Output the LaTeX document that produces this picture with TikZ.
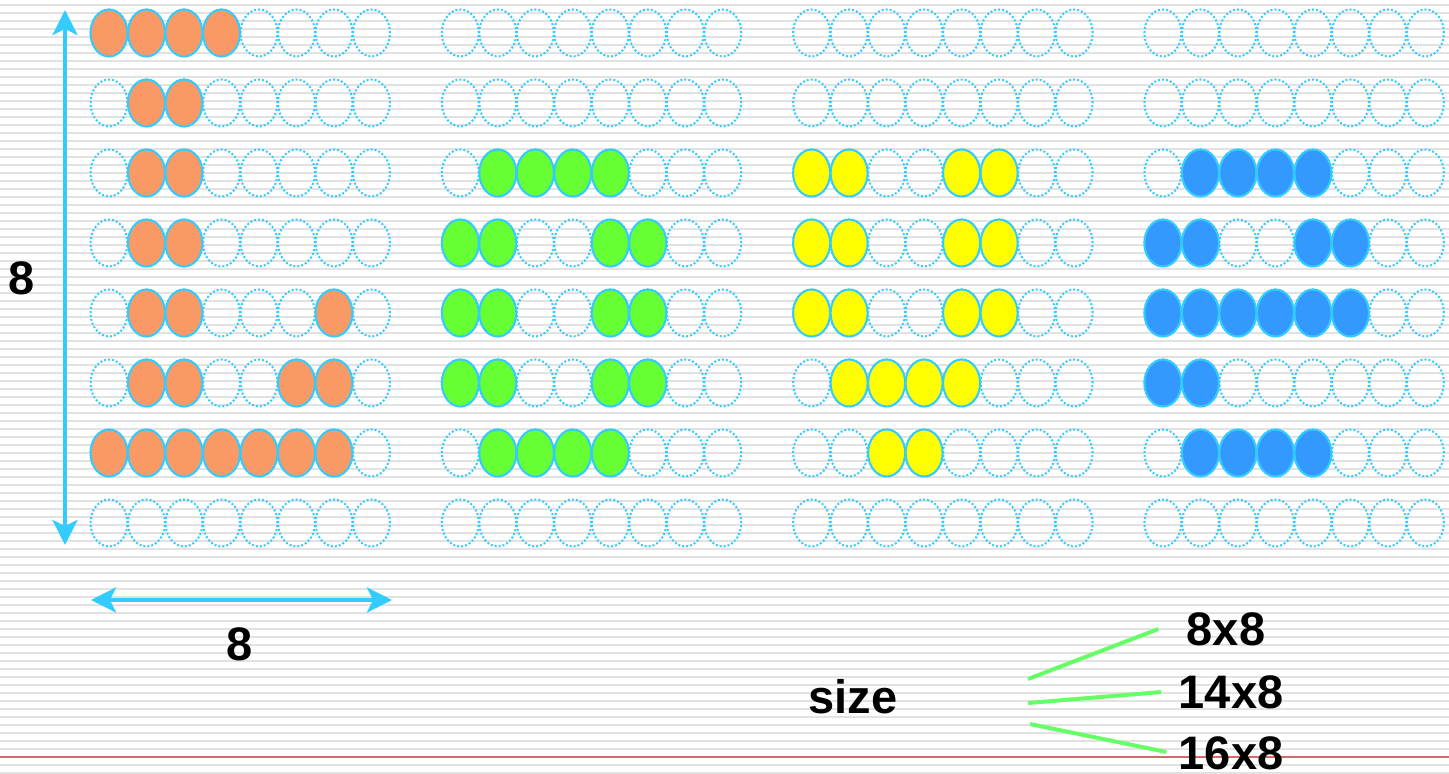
\documentclass[tikz,border=0pt]{standalone}
\usepackage{fontspec}
\setmainfont{Liberation Sans}
\usetikzlibrary{arrows.meta,shapes.geometric}
\definecolor{rimblue}{HTML}{33CCFF}
\definecolor{pixorange}{HTML}{F99A66}
\definecolor{pixgreen}{HTML}{66FF33}
\definecolor{pixyellow}{HTML}{FFFF00}
\definecolor{pixblue}{HTML}{3399FF}
\definecolor{stripegray}{HTML}{E2E2E2}
\definecolor{redrule}{HTML}{D66A6A}
\definecolor{forkgreen}{HTML}{66FF66}

\begin{document}
\begin{tikzpicture}[x=0.5pt,y=-0.5pt,>={Stealth[length=12.5pt,width=12.5pt,inset=3pt]},
  holecell/.style={ellipse,minimum width=18.5pt,minimum height=23.5pt,inner sep=0pt,line width=1pt,draw=rimblue,densely dotted},
  pixcell/.style={holecell,solid,fill=#1},
  lbl/.style={font=\bfseries\fontsize{23.5}{28}\selectfont,inner sep=0pt}]
\useasboundingbox (0,0) rectangle (1449,774);
\fill[white] (0,0) rectangle (1449,774);
\foreach \k in {0,...,96} \draw[stripegray,line width=1pt] (0,5+8*\k) -- (1449,5+8*\k);
\draw[redrule,line width=1pt] (0,757) -- (1449,757);
% empty 8x8 grids
\foreach \g in {1,...,4} \foreach \r in {1,...,8} \foreach \c in {1,...,8}
  \node[holecell] (g\g-\r-\c) at ({109+351.3*(\g-1)+37.5*(\c-1)},{33+70*(\r-1)}) {};
% filled cells
\foreach \r/\c in {1/1,1/2,1/3,1/4,2/2,2/3,3/2,3/3,4/2,4/3,5/2,5/3,5/7,6/2,6/3,6/6,6/7,7/1,7/2,7/3,7/4,7/5,7/6,7/7}
  \node[pixcell=pixorange] at (g1-\r-\c) {};
\foreach \r/\c in {3/2,3/3,3/4,3/5,4/1,4/2,4/5,4/6,5/1,5/2,5/5,5/6,6/1,6/2,6/5,6/6,7/2,7/3,7/4,7/5}
  \node[pixcell=pixgreen] at (g2-\r-\c) {};
\foreach \r/\c in {3/1,3/2,3/5,3/6,4/1,4/2,4/5,4/6,5/1,5/2,5/5,5/6,6/2,6/3,6/4,6/5,7/3,7/4}
  \node[pixcell=pixyellow] at (g3-\r-\c) {};
\foreach \r/\c in {3/2,3/3,3/4,3/5,4/1,4/2,4/5,4/6,5/1,5/2,5/3,5/4,5/5,5/6,6/1,6/2,7/2,7/3,7/4,7/5}
  \node[pixcell=pixblue] at (g4-\r-\c) {};
% dimension arrows
\coordinate (vtop) at (65,10); \coordinate (vbot) at (65,545);
\draw[<->,rimblue,line width=2pt] (vtop) -- (vbot);
\coordinate (hleft) at (91,600); \coordinate (hright) at (392,600);
\draw[<->,rimblue,line width=2pt] (hleft) -- (hright);
\node[lbl] (nrows) at (22,278) {8}; \node[lbl] (ncols) at (240,644) {8};
% size fork
\node[lbl] (size) at (853,697) {size};
\node[lbl] (s8) at (1226,629) {8x8};
\node[lbl] (s14) at (1231,692) {14x8};
\node[lbl] (s16) at (1231,753) {16x8};
\coordinate (f8) at (1028,679); \coordinate (e8) at ([xshift=-14pt]s8.west);
\coordinate (f14) at (1028,703); \coordinate (e14) at ([xshift=-8.5pt]s14.west);
\coordinate (f16) at (1030,724); \coordinate (e16) at ([xshift=-6pt,yshift=0.5pt]s16.west);
\draw[forkgreen,line width=2pt] (f8) -- (e8); \draw[forkgreen,line width=2pt] (f14) -- (e14);
\draw[forkgreen,line width=2pt] (f16) -- (e16);
\end{tikzpicture}
\end{document}
